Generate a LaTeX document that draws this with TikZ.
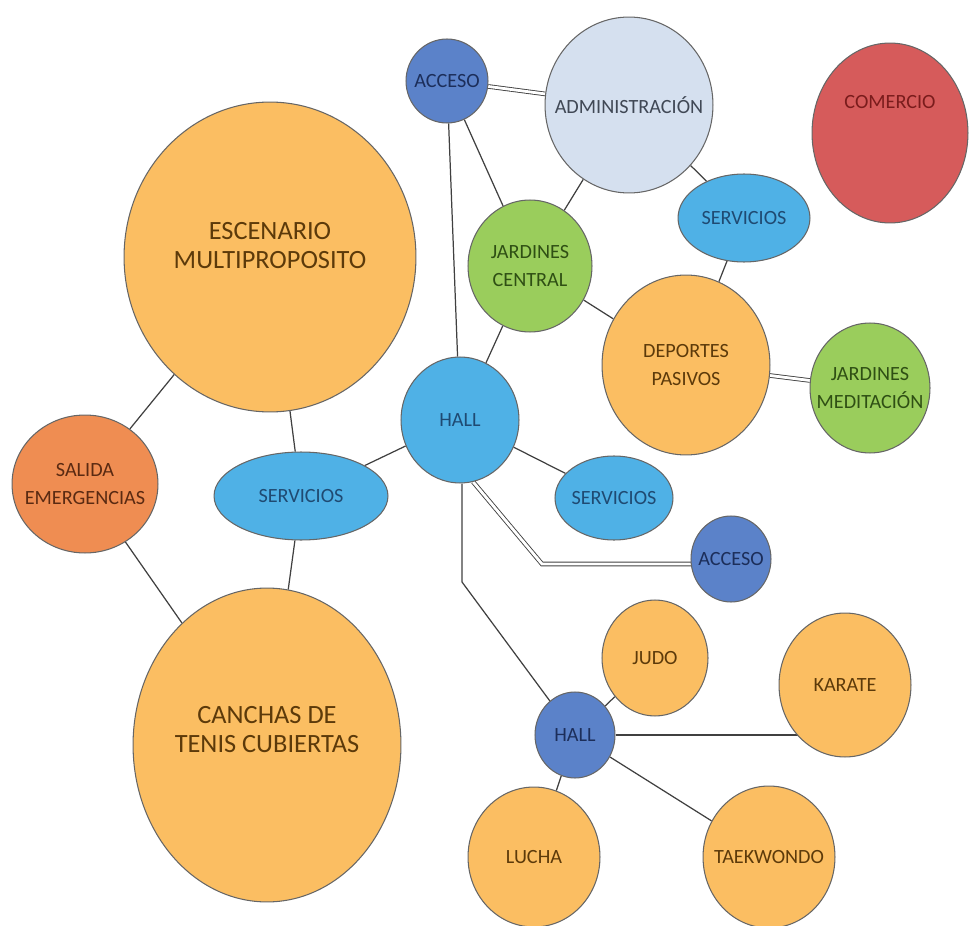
\documentclass[tikz,border=0pt]{standalone}
\usepackage{fontspec}
\setmainfont{Carlito}
\usetikzlibrary{shapes.geometric,backgrounds}
\definecolor{cOr}{HTML}{FBBE62}
\definecolor{tOr}{HTML}{5C3A0A}
\definecolor{cLb}{HTML}{4FB1E6}
\definecolor{tLb}{HTML}{1F4A72}
\definecolor{cDb}{HTML}{5B82C9}
\definecolor{tDb}{HTML}{1C2E5A}
\definecolor{cAd}{HTML}{D5E0EF}
\definecolor{tAd}{HTML}{404855}
\definecolor{cRd}{HTML}{D65B5B}
\definecolor{tRd}{HTML}{7A1C1C}
\definecolor{cGr}{HTML}{9ACD5C}
\definecolor{tGr}{HTML}{2F4F14}
\definecolor{cSa}{HTML}{EF8D52}
\definecolor{tSa}{HTML}{5A2A12}
\begin{document}
\begin{tikzpicture}[x=0.02cm,y=-0.02cm,
  bub/.style={ellipse, draw=black!60, line width=0.6pt, inner sep=-25pt, align=center,
    font=\fontsize{11.5}{16}\selectfont},
  rxy/.style 2 args={minimum width=#1*0.04cm, minimum height=#2*0.04cm},
  orng/.style={bub, fill=cOr, text=tOr},
  lblue/.style={bub, fill=cLb, text=tLb},
  dblue/.style={bub, fill=cDb, text=tDb},
  admin/.style={bub, fill=cAd, text=tAd},
  red/.style={bub, fill=cRd, text=tRd},
  green/.style={bub, fill=cGr, text=tGr},
  salida/.style={bub, fill=cSa, text=tSa},
  biglbl/.style={font=\fontsize{15}{16.5}\selectfont, align=center, text=tOr},
  link/.style={draw=black!75, line width=0.7pt},
  dbl/.style={draw=black!75, line width=0.5pt, double=white, double distance=1.6pt}]
\useasboundingbox (0,0) rectangle (971,926);

\node[dblue, rxy={41}{42}] (acc1) at (447,81) {ACCESO};
\node[admin, rxy={84}{88}] (adm) at (629,105) {ADMINISTRACIÓN};
\node[red, rxy={78}{90}, label={[text=tRd, font=\fontsize{11.5}{16}\selectfont, yshift=31*0.02cm]center:COMERCIO}] (com) at (890,133) {};
\node[orng, rxy={146}{155}, label={[biglbl, yshift=11*0.02cm]center:ESCENARIO\\MULTIPROPOSITO}] (esc) at (270,257) {};
\node[lblue, rxy={66}{44}] (sc) at (744,218) {SERVICIOS};
\node[green, rxy={62}{66}] (jc) at (530,266) {JARDINES\\CENTRAL};
\node[orng, rxy={84}{90}] (dp) at (686,365) {DEPORTES\\PASIVOS};
\node[green, rxy={60}{65}] (jm) at (870,388) {JARDINES\\MEDITACIÓN};
\node[lblue, rxy={59}{63}] (hall) at (460,420) {HALL};
\node[salida, rxy={73}{69}] (sal) at (85,484) {SALIDA\\EMERGENCIAS};
\node[lblue, rxy={87}{44}] (sl) at (301,496) {SERVICIOS};
\node[lblue, rxy={59}{42}] (sr) at (614,498) {SERVICIOS};
\node[dblue, rxy={40}{43}] (acc2) at (731,559) {ACCESO};
\node[orng, rxy={134}{157}, label={[biglbl, yshift=15*0.02cm]center:CANCHAS DE\\TENIS CUBIERTAS}] (can) at (267,745) {};
\node[orng, rxy={53}{58}] (judo) at (655,658) {JUDO};
\node[orng, rxy={66}{72}] (kar) at (845,685) {KARATE};
\node[dblue, rxy={40}{43}] (hl) at (575,735) {HALL};
\node[orng, rxy={66}{70}] (lucha) at (534,857) {LUCHA};
\node[orng, rxy={66}{71}] (tae) at (769,857) {TAEKWONDO};

\coordinate (b1) at (542,564);
\coordinate (b2) at (462,582);

\begin{pgfonlayer}{background}
\draw[dbl] (acc1) -- (adm);
\draw[link] (acc1) -- (hall);
\draw[link] (acc1) -- (jc);
\draw[link] (adm) -- (jc);
\draw[link] (adm) -- (sc);
\draw[link] (sc) -- (dp);
\draw[link] (jc) -- (dp);
\draw[link] (jc) -- (hall);
\draw[dbl] (dp) -- (jm);
\draw[link] (hall) -- (sr);
\draw[dbl] (hall.-78) -- (b1) -- (b1 -| acc2.center);
\draw[link] (b2 |- hall.south) -- (b2) -- (hl);
\draw[link] (hall) -- (sl);
\draw[link] (esc) -- (sl);
\draw[link] (esc) -- (sal);
\draw[link] (sal) -- (can);
\draw[link] (sl) -- (can);
\draw[link] (hl) -- (judo);
\draw[link] (hl.east) -- (hl.east -| kar.center);
\draw[link] (hl) -- (lucha);
\draw[link] (hl) -- (tae);
\end{pgfonlayer}
\end{tikzpicture}
\end{document}
